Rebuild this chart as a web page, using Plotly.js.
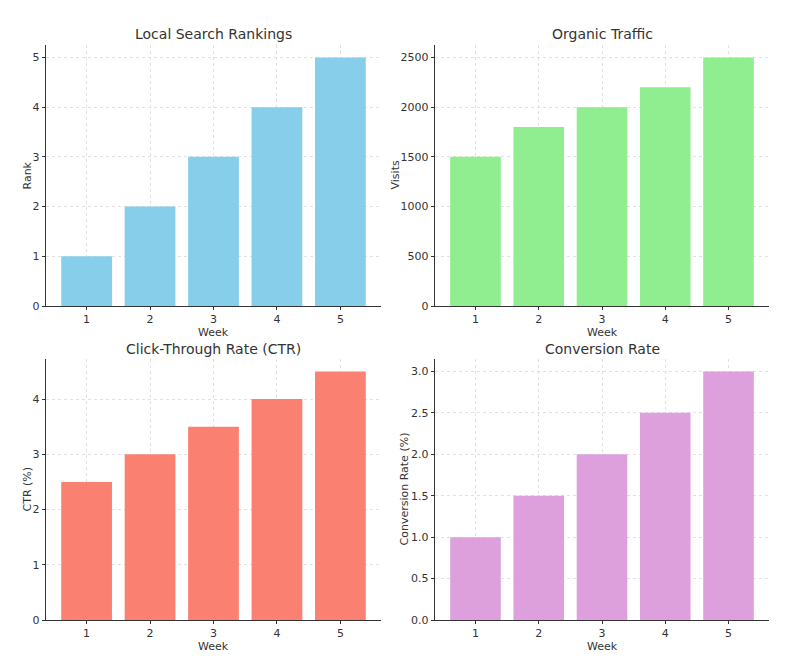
<!DOCTYPE html>
<html>
<head>
<meta charset="utf-8">
<script src="https://cdn.plot.ly/plotly-3.0.1.min.js"></script>
<style>html,body{margin:0;padding:0;background:#fff;}#chart{width:800px;height:663px;}</style>
</head>
<body>
<div id="chart"></div>
<script>
const weeks = [1, 2, 3, 4, 5];
const rankings = [1, 2, 3, 4, 5];
const traffic = [1500, 1800, 2000, 2200, 2500];
const ctr = [2.5, 3, 3.5, 4, 4.5];
const conversion = [1, 1.5, 2, 2.5, 3];

const titles = ["Local Search Rankings", "Organic Traffic", "Click-Through Rate (CTR)", "Conversion Rate"];
const yLabels = ["Rank", "Visits", "CTR (%)", "Conversion Rate (%)"];
const xLabel = "Week";
const colors = ["#87CEEB", "#90EE90", "#FA8072", "#DDA0DD"];
const series = [rankings, traffic, ctr, conversion];

const FONT = "DejaVu Sans, sans-serif";
const TXT = "#333333";

const xDomains = [[46/800, 381/800], [435/800, 769/800], [46/800, 381/800], [435/800, 769/800]];
const yDomains = [[1-306/663, 1-45/663], [1-306/663, 1-45/663], [1-620/663, 1-359/663], [1-620/663, 1-359/663]];
const yTickVals = [[0,1,2,3,4,5],[0,500,1000,1500,2000,2500],[0,1,2,3,4],[0,0.5,1,1.5,2,2.5,3]];
const yTickText = [null, null, null, ["0.0","0.5","1.0","1.5","2.0","2.5","3.0"]];
const yLabelX = [27, 395, 27, 404];
const titleShift = [1, 1, 0, 0];

const data = [];
const layout = {
  width: 800, height: 663,
  margin: {l: 0, r: 0, t: 0, b: 0},
  paper_bgcolor: "#ffffff",
  plot_bgcolor: "#ffffff",
  showlegend: false,
  bargap: 0.2,
  font: {family: FONT, color: TXT, size: 11},
  annotations: []
};

for (let i = 0; i < 4; i++) {
  const s = i === 0 ? "" : String(i + 1);
  const maxV = Math.max(...series[i]);
  data.push({
    type: "bar",
    x: weeks,
    y: series[i],
    xaxis: "x" + s,
    yaxis: "y" + s,
    width: 0.8,
    marker: {color: colors[i], line: {width: 0}},
    hoverinfo: "x+y"
  });
  const axCommon = {
    showgrid: true,
    gridcolor: "#d9d9d9",
    griddash: "dot",
    gridwidth: 0.8,
    zeroline: false,
    showline: true,
    linecolor: "#333333",
    linewidth: 1.2,
    ticks: "outside",
    ticklen: 3,
    tickwidth: 1,
    tickcolor: "#333333",
    tickfont: {family: FONT, size: 11, color: TXT},
    automargin: false,
    fixedrange: true
  };
  layout["xaxis" + s] = Object.assign({}, axCommon, {
    domain: xDomains[i],
    anchor: "y" + s,
    range: [0.36, 5.64],
    tickvals: weeks
  });
  const yax = Object.assign({}, axCommon, {
    domain: yDomains[i],
    anchor: "x" + s,
    range: [0, maxV * 1.05],
    tickvals: yTickVals[i]
  });
  if (yTickText[i]) yax.ticktext = yTickText[i];
  layout["yaxis" + s] = yax;

  const xc = (xDomains[i][0] + xDomains[i][1]) / 2;
  layout.annotations.push({
    text: titles[i], xref: "paper", yref: "paper",
    x: xc, y: yDomains[i][1], xanchor: "center", yanchor: "bottom",
    yshift: titleShift[i], showarrow: false,
    font: {family: FONT, size: 14, color: TXT}
  });
  layout.annotations.push({
    text: xLabel, xref: "paper", yref: "paper",
    x: xc, y: yDomains[i][0], xanchor: "center", yanchor: "top",
    yshift: -18, showarrow: false,
    font: {family: FONT, size: 11, color: TXT}
  });
  layout.annotations.push({
    text: yLabels[i], xref: "paper", yref: "paper",
    x: yLabelX[i] / 800, y: (yDomains[i][0] + yDomains[i][1]) / 2,
    xanchor: "center", yanchor: "middle", textangle: -90, showarrow: false,
    font: {family: FONT, size: 11, color: TXT}
  });
}

Plotly.newPlot("chart", data, layout, {displayModeBar: false, staticPlot: true});
</script>
</body>
</html>
